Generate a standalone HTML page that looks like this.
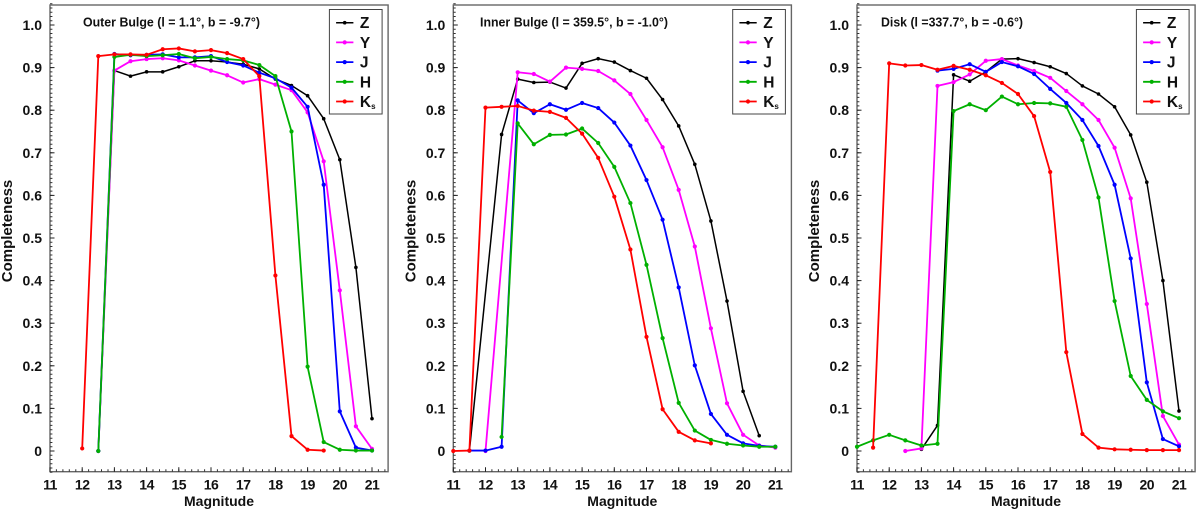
<!DOCTYPE html>
<html lang="en">
<head>
<meta charset="utf-8">
<title>Completeness vs Magnitude</title>
<style>
html,body{margin:0;padding:0;background:#fff;}
svg{display:block;font-family:"Liberation Sans",sans-serif;filter:blur(0.3px);}
</style>
</head>
<body>
<svg id="chart" xmlns="http://www.w3.org/2000/svg" width="1200" height="512" viewBox="0 0 1200 512"></svg>
<script>
const magnitudes = [11,11.5,12,12.5,13,13.5,14,14.5,15,15.5,16,16.5,17,17.5,18,18.5,19,19.5,20,20.5,21];
const xTickLabels = [11,12,13,14,15,16,17,18,19,20,21];
const yTickLabels = ['0','0.1','0.2','0.3','0.4','0.5','0.6','0.7','0.8','0.9','1.0'];
const bandNames = ['Z','Y','J','H','K'];
const panelTitles = ['Outer Bulge (l = 1.1°, b = -9.7°)','Inner Bulge (l = 359.5°, b = -1.0°)','Disk (l =337.7°, b = -0.6°)'];

const outerZ = [null,null,null,0,.893,.88,.89,.89,.902,.916,.916,.913,.908,.897,.873,.858,.834,.78,.684,.431,.076];
const outerY = [null,null,null,0,.893,.915,.92,.922,.917,.905,.893,.882,.865,.873,.86,.847,.795,.68,.377,.058,.005];
const outerJ = [null,null,null,0,.932,.929,.93,.931,.924,.924,.927,.913,.905,.888,.875,.853,.808,.625,.093,.008,.001];
const outerH = [null,null,null,0,.925,.93,.927,.929,.932,.922,.925,.92,.917,.906,.88,.75,.198,.021,.003,.001,.001];
const outerK = [null,null,.006,.927,.931,.931,.93,.943,.945,.938,.941,.934,.92,.88,.412,.035,.003,.001,null,null,null];

const innerZ = [null,0,null,.743,.873,.865,.866,.852,.91,.921,.913,.893,.875,.825,.763,.673,.54,.352,.14,.036,null];
const innerY = [null,null,0,null,.889,.885,.867,.9,.897,.892,.87,.838,.777,.713,.613,.48,.288,.112,.038,.013,.008];
const innerJ = [null,.001,.001,.01,.823,.793,.814,.801,.817,.805,.771,.717,.636,.543,.384,.201,.087,.038,.018,.012,.01];
const innerH = [null,null,null,.033,.769,.72,.742,.743,.757,.723,.667,.582,.437,.265,.113,.048,.026,.017,.013,.01,.01];
const innerK = [0,.001,.806,.808,.81,.799,.796,.782,.745,.688,.597,.473,.268,.098,.045,.025,.018,null,null,null,null];

const diskZ = [null,null,null,null,.004,.06,.883,.868,.89,.92,.921,.912,.902,.886,.857,.838,.808,.742,.631,.4,.094];
const diskY = [null,null,null,0,.006,.857,.866,.884,.916,.92,.905,.892,.876,.845,.814,.777,.712,.593,.345,.082,.015];
const diskJ = [null,null,null,null,null,.893,.897,.908,.89,.913,.903,.885,.85,.817,.777,.716,.625,.452,.161,.028,.011];
const diskH = [.01,.025,.038,.025,.013,.017,.798,.814,.8,.832,.814,.817,.816,.808,.73,.595,.352,.176,.12,.093,.077];
const diskK = [null,.008,.91,.905,.906,.895,.904,.895,.882,.864,.838,.786,.655,.232,.04,.008,.004,.003,.002,.002,.002];

const panelSeries = [
  [outerZ,outerY,outerJ,outerH,outerK],
  [innerZ,innerY,innerJ,innerH,innerK],
  [diskZ,diskY,diskJ,diskH,diskK]
];

const NS = 'http://www.w3.org/2000/svg';
const svg = document.getElementById('chart');
const bandColors = ['#000000','#ff00ff','#0000ff','#00b000','#ff0000'];
const bandWidths = [1.5,1.8,1.8,1.8,1.8];
const bandRadii = [1.8,2.1,2.1,2.1,2.1];
const panelLefts = [50,453.3,857];
const panelKeys = ['outer-bulge','inner-bulge','disk'];
const titleX = [83,480,881];
const titleWidth = [177,188,142];
const xUnit = 32.2, yUnit = 426, frameTop = 5, frameBottom = 471.7, y0 = 451;

function mk(tag, attrs, parent, text) {
  const el = document.createElementNS(NS, tag);
  for (const k in attrs) el.setAttribute(k, attrs[k]);
  if (text !== undefined) el.textContent = text;
  parent.appendChild(el);
  return el;
}
function yScale(v) { return y0 - v * yUnit; }

panelSeries.forEach(function (series, p) {
  const left = panelLefts[p];
  const right = left + 10.5 * xUnit;
  const xScale = function (m) { return left + (m - 11) * xUnit; };

  const g = mk('g', {}, svg);
  
  

  const frame = mk('rect', {x:left,y:frameTop,width:right-left,height:frameBottom-frameTop,fill:'none',stroke:'#666','stroke-width':1.4}, g);
  
  

  // minor ticks
  let d = '';
  for (let i = 0; i <= 52; i++) {
    const x = left + i * 0.2 * xUnit;
    d += 'M' + x.toFixed(1) + ' ' + frameBottom + 'v-2.4';
  }
  for (let i = -5; i <= 105; i++) {
    const y = yScale(i / 100);
    d += 'M' + left + ' ' + y.toFixed(1) + 'h2.4';
  }
  const minor = mk('path', {d:d,stroke:'#333','stroke-width':1,fill:'none'}, g);
  
  

  // x ticks
  xTickLabels.forEach(function (t) {
    const x = xScale(t);
    const tick = mk('path', {d:'M'+x+' '+frameBottom+'v-4.5',stroke:'#222','stroke-width':1}, g);
    
    
    const lab = mk('text', {x:x,y:489.5,'text-anchor':'middle','font-size':14,'font-weight':'bold',fill:'#111','letter-spacing':'-0.5'}, g, t);
    
    
  });

  // y ticks
  yTickLabels.forEach(function (t) {
    const y = yScale(parseFloat(t));
    const tick = mk('path', {d:'M'+left+' '+y+'h4.5',stroke:'#222','stroke-width':1}, g);
    
    
    const lab = mk('text', {x:left-8,y:y+5,'text-anchor':'end','font-size':14,'font-weight':'bold',fill:'#111'}, g, t);
    
    
  });

  const xTitle = mk('text', {x:left+169,y:506,'text-anchor':'middle','font-size':14,'font-weight':'bold',fill:'#111'}, g, 'Magnitude');
  
  

  const yx = left - 38;
  const yTitle = mk('text', {x:0,y:0,transform:'translate('+yx+' 231) rotate(-90)','text-anchor':'middle','font-size':15,'font-weight':'bold',fill:'#111'}, g, 'Completeness');
  
  

  const title = mk('text', {x:titleX[p],y:26.5,'font-size':13,'font-weight':'bold',fill:'#111',textLength:titleWidth[p],lengthAdjust:'spacingAndGlyphs'}, g, panelTitles[p]);
  
  

  // series
  series.forEach(function (vals, s) {
    const sg = mk('g', {}, g);
    
    
    const pts = [];
    vals.forEach(function (v, i) {
      if (v !== null) pts.push([xScale(magnitudes[i]), yScale(v)]);
    });
    const line = mk('polyline', {points:pts.map(function (q) { return q[0].toFixed(2)+','+q[1].toFixed(2); }).join(' '),fill:'none',stroke:bandColors[s],'stroke-width':bandWidths[s],'stroke-linejoin':'round'}, sg);
    
    
    pts.forEach(function (q) {
      const c = mk('circle', {cx:q[0].toFixed(2),cy:q[1].toFixed(2),r:bandRadii[s],fill:bandColors[s]}, sg);
      
      
    });
  });

  // legend
  const lx = right - 58.7;
  const legend = mk('g', {}, g);
  
  
  const legendBox = mk('rect', {x:lx,y:9.5,width:52.7,height:104.5,fill:'#fff',stroke:'#444','stroke-width':1}, legend);
  
  
  bandNames.forEach(function (n, s) {
    const ly = 22.7 + s * 19.7;
    const entry = mk('g', {}, legend);
    
    
    const swatch = mk('line', {x1:lx+6.7,x2:lx+24,y1:ly,y2:ly,stroke:bandColors[s],'stroke-width':bandWidths[s]}, entry);
    
    
    const dot = mk('circle', {cx:lx+15.3,cy:ly,r:bandRadii[s],fill:bandColors[s]}, entry);
    
    
    const t = mk('text', {x:lx+30.5,y:ly+5.5,'font-size':15.5,'font-weight':'bold',fill:'#111'}, entry, n);
    
    
    if (n === 'K') {
      mk('tspan', {'font-size':8,dy:2}, t, 's');
    }
  });
});
</script>
</body>
</html>
